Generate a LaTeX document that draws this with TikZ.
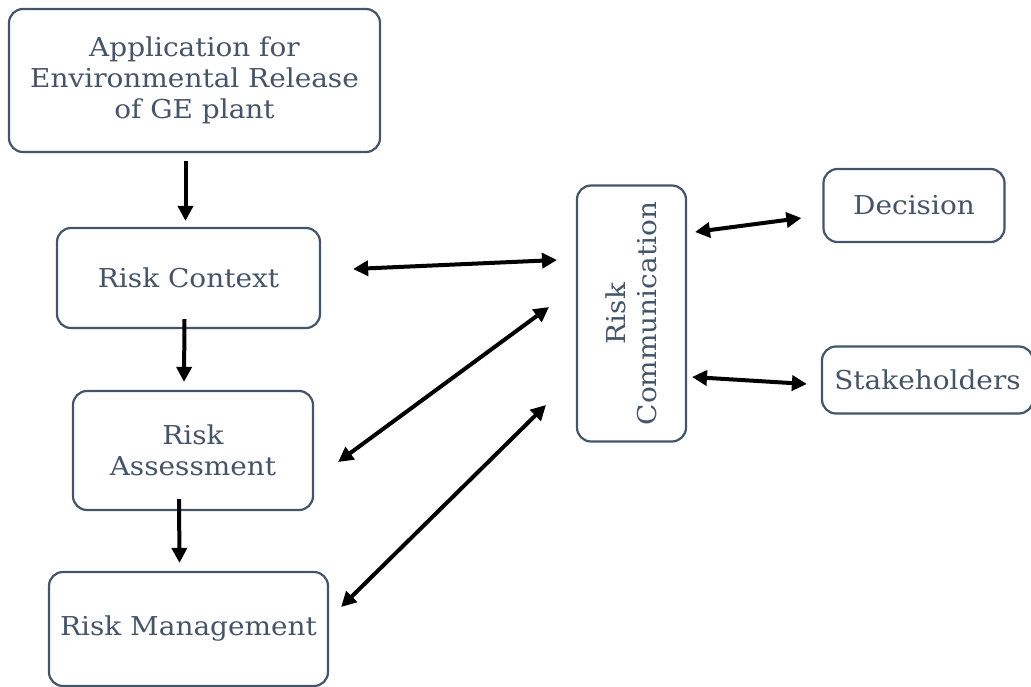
\documentclass[tikz,border=0pt]{standalone}
\usepackage{fontspec}
\setmainfont[FakeStretch=1.075]{DejaVu Serif}
\usetikzlibrary{arrows.meta}
\definecolor{slate}{HTML}{44546A}
\tikzset{
  box/.style={draw=slate, line width=2.2pt, rounded corners=14pt, text=slate, align=center,
    font=\fontsize{26}{31}\selectfont, inner sep=0pt},
  flow/.style={line width=4pt, -{Triangle[length=15pt,width=15pt]}},
  link/.style={line width=4pt, {Triangle[length=15pt,width=15pt]}-{Triangle[length=15pt,width=15pt]}}
}
\begin{document}
\begin{tikzpicture}[x=1pt,y=-1pt]
\useasboundingbox (0,0) rectangle (1031,687);
\node[box, minimum width=371pt, minimum height=143pt] (app) at (194.5,80.5) {Application for\\Environmental Release\\of GE plant};
\node[box, minimum width=263pt, minimum height=100pt] (ctx) at (188.5,278) {Risk Context};
\node[box, minimum width=240pt, minimum height=119pt] (ra) at (193,450.5) {Risk\\Assessment};
\node[box, minimum width=279pt, minimum height=114pt] (rm) at (188.5,629) {Risk Management};
\node[box, rotate=90, minimum width=256pt, minimum height=109pt] (rc) at (631.5,313.5) {Risk\\Communication};
\node[box, minimum width=181pt, minimum height=73pt] (dec) at (914,205.5) {Decision};
\node[box, minimum width=211pt, minimum height=67pt] (stk) at (927.5,380) {Stakeholders};
% vertical flow
\draw[flow] ([shift={(-9,8)}]app.south) -- ([shift={(-3,-6)}]ctx.north);
\draw[flow] ([shift={(-4,-10)}]ctx.south) -- ([shift={(-9,-8)}]ra.north);
\draw[flow] ([shift={(-14,-12)}]ra.south) -- ([shift={(-9,-8)}]rm.north);
% links
\draw[link] ([shift={(32,-9)}]ctx.east) -- ([shift={(-74.5,-53.5)}]rc.center);
\draw[link] ([shift={(24,11.5)}]ra.east) -- ([shift={(-82.5,-6.5)}]rc.center);
\draw[link] ([shift={(12,-22)}]rm.east) -- ([shift={(-85.5,91.5)}]rc.center);
\draw[link] ([shift={(63.5,-81.5)}]rc.center) -- ([shift={(-21,12.5)}]dec.west);
\draw[link] ([shift={(60.5,63.5)}]rc.center) -- ([shift={(-14,4)}]stk.west);
\end{tikzpicture}
\end{document}
